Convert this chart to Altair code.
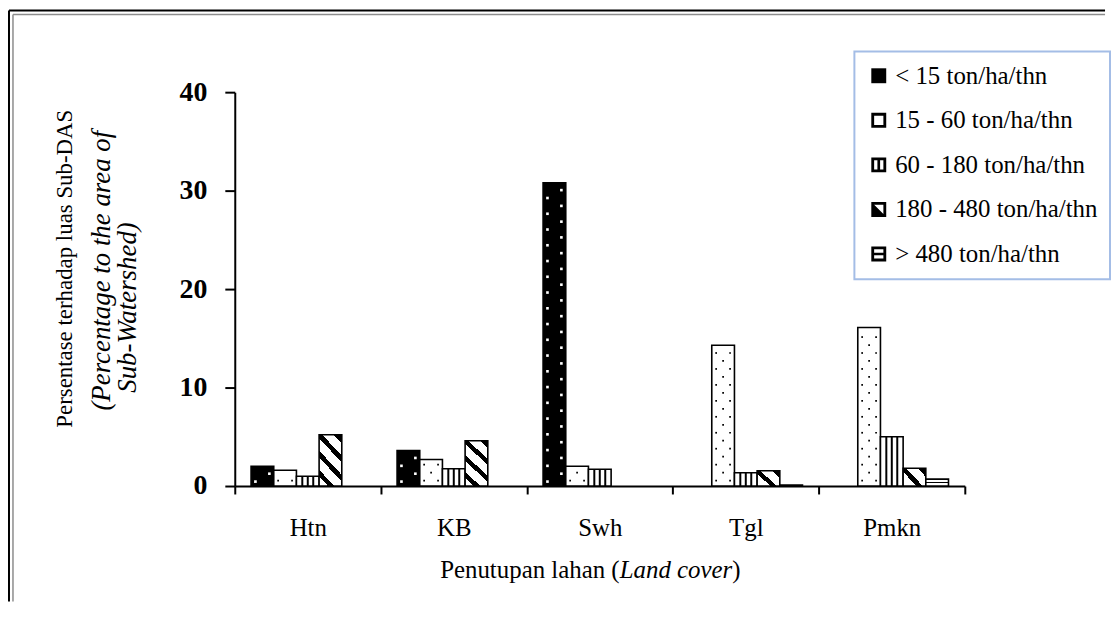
import math
import json
import altair as alt
import pandas as pd

# ---------------- data ----------------
categories = ["Htn", "KB", "Swh", "Tgl", "Pmkn"]
series = ["< 15 ton/ha/thn", "15 - 60 ton/ha/thn", "60 - 180 ton/ha/thn",
          "180 - 480 ton/ha/thn", "> 480 ton/ha/thn"]
v_lt15 = [2.0, 3.6, 30.8, 0.0, 0.0]
v_15_60 = [1.6, 2.7, 2.0, 14.3, 16.1]
v_60_180 = [1.0, 1.75, 1.7, 1.35, 5.0]
v_180_480 = [5.2, 4.6, 0.0, 1.55, 1.8]
v_gt480 = [0.0, 0.0, 0.0, 0.1, 0.7]
y_ticks = [0, 10, 20, 30, 40]

rows = []
for si, vals in enumerate([v_lt15, v_15_60, v_60_180, v_180_480, v_gt480]):
    for ci, v in enumerate(vals):
        rows.append({"cat": categories[ci], "ci": ci, "series": series[si], "si": si, "value": v})
df = pd.DataFrame(rows)

# ---------------- layout / style ----------------
FONT = "Liberation Serif"
W, H = 734, 396
STEP = W / len(categories)
GROUP = 0.7766
BW = GROUP / len(series)
GAP = (1 - GROUP) / 2
BAR_PX = BW * STEP

xs = alt.Scale(domain=[0, len(categories)], nice=False, zero=False)
ys = alt.Scale(domain=[0, 40], nice=False)

# x-axis title pieces (normal / italic / normal), placed side by side
XT_SIZE = 25
XT_LEFT = 206
XT_BASE = 92
w_piece1 = 7.221 * XT_SIZE      # "Penutupan lahan (" in Times metrics
w_piece2 = 4.527 * XT_SIZE      # "Land cover" in Times italic metrics

label_expr = json.dumps(categories) + "[datum.value] || ''"
x_axis = alt.Axis(values=list(range(len(categories) + 1)), labelExpr=label_expr,
                  labelOffset=STEP / 2, labelFlush=False, labelOverlap=False,
                  labelFont=FONT, labelFontSize=25, labelColor="black", labelPadding=22,
                  tickSize=8, tickWidth=2, tickColor="black",
                  domainWidth=2, domainColor="black", grid=False,
                  title="Penutupan lahan (", titleFont=FONT, titleFontSize=XT_SIZE,
                  titleFontWeight="normal", titleColor="black", titleX=XT_LEFT, titleY=XT_BASE,
                  titleAlign="left", titleBaseline="alphabetic", titleAnchor="start")
y_axis = alt.Axis(values=y_ticks, labelFont=FONT, labelFontSize=28, labelFontWeight="bold",
                  labelColor="black", labelPadding=18, tickSize=10, tickWidth=2,
                  tickColor="black", domainWidth=2, domainColor="black", grid=False,
                  title="Persentase terhadap luas Sub-DAS", titleFont=FONT, titleFontSize=23,
                  titleFontWeight="normal", titleColor="black", titleX=-171, titleY=177,
                  titleAngle=270, titleAlign="center", titleBaseline="middle")


def diag_gradient(w, h, period, thick):
    total = (w + h) / math.sqrt(2)
    c0 = h / math.sqrt(2)
    intervals = []
    for m in range(-10, 11):
        c = c0 + m * period
        a, b = (c - thick / 2) / total, (c + thick / 2) / total
        if b <= 0 or a >= 1:
            continue
        intervals.append((max(a, 0.0), min(b, 1.0)))
    intervals.sort()
    stops = [(0.0, "black" if intervals and intervals[0][0] <= 0 else "white")]
    for a, b in intervals:
        if a > 0:
            stops += [(a, "white"), (a, "black")]
        if b < 1:
            stops += [(b, "black"), (b, "white")]
    stops.append((1.0, "black" if intervals and intervals[-1][1] >= 1 else "white"))
    k = (w + h) / (w * w + h * h)
    return alt.LinearGradient(
        gradient="linear",
        stops=[alt.GradientStop(offset=round(o, 4), color=c) for o, c in stops],
        x1=0, y1=1, x2=round(k * w, 4), y2=round(1 - k * h, 4))


grad_tall = diag_gradient(BAR_PX, 48, 12.7, 4.5)
grad_short = diag_gradient(BAR_PX, 16.5, 12.7, 4.5)
grad_horiz = alt.LinearGradient(
    gradient="linear", x1=0, y1=0, x2=0, y2=1,
    stops=[alt.GradientStop(offset=0, color="white"), alt.GradientStop(offset=0.4, color="white"),
           alt.GradientStop(offset=0.4, color="black"), alt.GradientStop(offset=0.62, color="black"),
           alt.GradientStop(offset=0.62, color="white"), alt.GradientStop(offset=1, color="white")])

base = alt.Chart(df).transform_filter("datum.value > 0").transform_calculate(
    x0=f"datum.ci + {GAP} + datum.si * {BW}",
    x1=f"datum.ci + {GAP} + (datum.si + 1) * {BW}",
    xc=f"datum.ci + {GAP} + (datum.si + 0.5) * {BW}",
)

X0 = alt.X("x0:Q", scale=xs, axis=x_axis)
XC = alt.X("xc:Q", scale=xs, axis=x_axis)
YV = alt.Y("value:Q", scale=ys, axis=y_axis)
YD = alt.Y("d:Q", scale=ys, axis=y_axis)

bar_style = dict(stroke="black", strokeWidth=1.6)


def bars(si, fill, extra=None):
    c = base.transform_filter(f"datum.si == {si}")
    if extra:
        c = c.transform_filter(extra)
    return c.mark_bar(fill=fill, **bar_style).encode(x=X0, x2="x1:Q", y=YV, y2=alt.datum(0))


def dots(si, start, step, offset, color, size):
    return (base.transform_filter(f"datum.si == {si}")
            .transform_calculate(d=f"sequence({start}, datum.value - 0.35, {step})")
            .transform_flatten(["d"])
            .mark_square(fill=color, size=size, opacity=1, strokeWidth=0, xOffset=offset)
            .encode(x=XC, y=YD))


def stripe(si, offset):
    return (base.transform_filter(f"datum.si == {si}")
            .mark_rule(color="black", strokeWidth=2, xOffset=offset)
            .encode(x=XC, y=YV, y2=alt.datum(0)))


layers = [
    bars(0, "black"),
    dots(0, 0.45, 1.6, -7, "white", 7),
    dots(0, 1.25, 1.6, 7, "white", 7),
    bars(1, "white"),
    dots(1, 0.55, 1.62, -7, "black", 3),
    dots(1, 0.55, 1.62, 7, "black", 3),
    dots(1, 1.36, 1.62, 0, "black", 3),
    bars(2, "white"),
    stripe(2, -5.5), stripe(2, 0), stripe(2, 5.5),
    bars(3, grad_tall, "datum.value > 3"),
    bars(3, grad_short, "datum.value <= 3"),
    bars(4, grad_horiz),
]

# outer frame of the figure (decoration)
one = alt.Chart(alt.Data(values=[{}]))
frame = [
    one.mark_rule(color="black", strokeWidth=2).encode(x=alt.value(-227), y=alt.value(-82), y2=alt.value(512)),
    one.mark_rule(color="black", strokeWidth=2).encode(x=alt.value(-227), x2=alt.value(875), y=alt.value(-82)),
    one.mark_rule(color="#8c8c8c", strokeWidth=1.5).encode(x=alt.value(-223), y=alt.value(-78), y2=alt.value(512)),
    one.mark_rule(color="#8c8c8c", strokeWidth=1.5).encode(x=alt.value(-223), x2=alt.value(875), y=alt.value(-78)),
]

inner = alt.layer(*layers, *frame)

# legend symbols (unit-square SVG paths)
OUT = "M-1,-1H1V1H-1Z"
HOLE = "M-0.62,-0.62V0.62H0.62V-0.62Z"
shape_paths = [
    OUT,
    OUT + HOLE,
    OUT + HOLE + "M-0.18,-0.62H0.18V0.62H-0.18Z",
    OUT + HOLE + "M-0.62,-0.62L0.62,0.62H-0.62Z",
    OUT + HOLE + "M-0.62,-0.18H0.62V0.18H-0.62Z",
]

legend = alt.Legend(orient="none", legendX=623, legendY=-41, direction="vertical", title=None,
                    padding=12, strokeColor="#a4bde6", fillColor="white",
                    labelFont=FONT, labelFontSize=25, labelColor="black", labelOffset=4,
                    labelLimit=500, rowPadding=18.8, symbolSize=225, symbolFillColor="black",
                    symbolStrokeWidth=0, symbolOpacity=1)


def title_axis(text, x, y, size):
    return alt.Axis(orient="left", domain=False, ticks=False, labels=False, grid=False,
                    title=text, titleFont=FONT, titleFontSize=size, titleFontStyle="italic",
                    titleFontWeight="normal", titleColor="black", titleX=x, titleY=y,
                    titleAngle=270, titleAlign="center", titleBaseline="middle")


def xtitle_axis(text, x, style):
    return alt.Axis(orient="bottom", domain=False, ticks=False, labels=False, grid=False,
                    title=text, titleFont=FONT, titleFontSize=XT_SIZE, titleFontStyle=style,
                    titleFontWeight="normal", titleColor="black", titleX=x, titleY=XT_BASE,
                    titleAlign="left", titleBaseline="alphabetic", titleAnchor="start")


holder = (alt.Chart(df).transform_filter("false")
          .mark_point(filled=True, opacity=1, color="black", size=225)
          .encode(x=alt.X("value:Q", scale=alt.Scale(domain=[0, 40]),
                          axis=xtitle_axis("Land cover", XT_LEFT + w_piece1, "italic")),
                  y=alt.Y("value:Q", scale=alt.Scale(domain=[0, 40]),
                          axis=title_axis("(Percentage to the area of", -134, 179, 27)),
                  shape=alt.Shape("series:N", scale=alt.Scale(domain=series, range=shape_paths),
                                  legend=legend)))

holder2 = (alt.Chart(df).transform_filter("false")
           .mark_point(opacity=0)
           .encode(x=alt.X("value:Q", scale=alt.Scale(domain=[0, 40]),
                           axis=xtitle_axis(")", XT_LEFT + w_piece1 + w_piece2, "normal")),
                   y=alt.Y("value:Q", scale=alt.Scale(domain=[0, 40]),
                           axis=title_axis("Sub-Watershed)", -108, 216, 27))))

chart = (alt.layer(inner, holder, holder2)
         .resolve_scale(x="independent", y="independent")
         .properties(width=W, height=H, padding=0, background="white")
         .configure_view(stroke=None)
         .configure_legend(strokeWidth=2))

chart.save("out.html", embed_options={"renderer": "svg", "actions": False})
